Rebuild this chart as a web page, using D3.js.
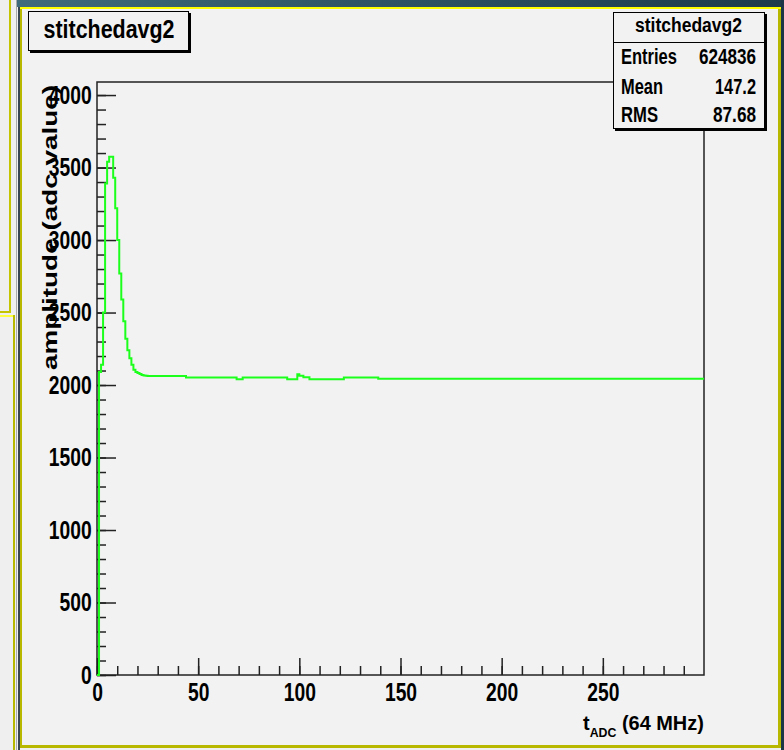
<!DOCTYPE html>
<html>
<head>
<meta charset="utf-8">
<style>
body { margin: 0; background: #efefef; }
svg text { font-family: "Liberation Sans", Arial, sans-serif; font-weight: bold; fill: #000; }
.axis line { stroke: #222; stroke-width: 1.5; }
.axis path { display: none; }
</style>
</head>
<body>
<svg id="thevis" width="784" height="750"></svg>
<script src="https://cdn.jsdelivr.net/npm/d3@7/dist/d3.min.js"></script>
<script>
// histogram: each run starts at a bin and keeps its value until the next run
var runStart = [0, 1, 2, 3, 4, 5, 6, 8, 9, 10,
                11, 12, 13, 14, 15, 16, 17, 18, 19, 20,
                21, 22, 23, 24, 25, 44, 69, 72, 94, 99,
                100, 102, 105, 122, 139];
var runValue = [0, 2090, 2140, 2500, 3390, 3540, 3575, 3430, 3220, 3000,
                2770, 2590, 2440, 2320, 2240, 2185, 2140, 2105, 2090, 2083,
                2076, 2069, 2066, 2064, 2062, 2052, 2040, 2052, 2040, 2075,
                2064, 2053, 2040, 2052, 2043];
var nBins = 300;

var xMajor = [0, 50, 100, 150, 200, 250];
var yMajor = [0, 500, 1000, 1500, 2000, 2500, 3000, 3500, 4000];
var statNames = ["Entries", "Mean", "RMS"];
var statValues = ["624836", "147.2", "87.68"];
var histName = "stitchedavg2";

var svg = d3.select("svg");

// ---- window decorations around the ROOT canvas ----
svg.append("rect").attr("x", 9).attr("y", 0).attr("width", 2).attr("height", 313).attr("fill", "#c4c400");
svg.append("rect").attr("x", 0).attr("y", 311).attr("width", 11).attr("height", 2).attr("fill", "#c4c400");
svg.append("rect").attr("x", 0).attr("y", 315).attr("width", 15).attr("height", 2).attr("fill", "#ffff40");
svg.append("rect").attr("x", 13).attr("y", 315).attr("width", 2).attr("height", 435).attr("fill", "#b8b800");
svg.append("rect").attr("x", 16).attr("y", 0).attr("width", 1).attr("height", 750).attr("fill", "#aaaaaa");
svg.append("rect").attr("x", 18).attr("y", 0).attr("width", 2).attr("height", 750).attr("fill", "#3a4652");

var grad = svg.append("defs").append("linearGradient").attr("id", "bar");
grad.append("stop").attr("offset", "0%").attr("stop-color", "#3f6b7a");
grad.append("stop").attr("offset", "100%").attr("stop-color", "#1d3b4b");
svg.append("rect").attr("x", 17).attr("y", 0).attr("width", 767).attr("height", 7).attr("fill", "url(#bar)");
svg.append("rect").attr("x", 781).attr("y", 0).attr("width", 3).attr("height", 750).attr("fill", "#1d3646");

// canvas with its border
svg.append("rect").attr("x", 20).attr("y", 7).attr("width", 761).attr("height", 741).attr("fill", "#b8b800");
svg.append("rect").attr("x", 20).attr("y", 7).attr("width", 761).attr("height", 2).attr("fill", "#ffff00");
svg.append("rect").attr("x", 22).attr("y", 9).attr("width", 756).attr("height", 736).attr("fill", "#f2f2f2");

// ---- scales ----
var x = d3.scaleLinear().domain([0, 300]).range([97, 704]);
var y = d3.scaleLinear().domain([0, 4090]).range([675, 82]);

// minor ticks
svg.append("g").attr("class", "axis")
    .attr("transform", "translate(0," + y(0) + ")")
    .call(d3.axisBottom(x).tickValues(d3.range(0, 300, 10)).tickSize(-9).tickFormat(""));
svg.append("g").attr("class", "axis")
    .attr("transform", "translate(" + x(0) + ",0)")
    .call(d3.axisLeft(y).tickValues(d3.range(0, 4001, 100)).tickSize(-9).tickFormat(""));

// major ticks with labels
var xAxis = svg.append("g").attr("class", "axis")
    .attr("transform", "translate(0," + y(0) + ")")
    .call(d3.axisBottom(x).tickValues(xMajor).tickSize(-17).tickPadding(8).tickFormat(d3.format("d")));
xAxis.selectAll("text").attr("font-size", 25).attr("font-family", null)
    .attr("transform", "scale(0.77,1)");

var yAxis = svg.append("g").attr("class", "axis")
    .attr("transform", "translate(" + x(0) + ",0)")
    .call(d3.axisLeft(y).tickValues(yMajor).tickSize(-19).tickPadding(7).tickFormat(d3.format("d")));
yAxis.selectAll("text").attr("font-size", 25).attr("font-family", null)
    .attr("transform", "scale(0.77,1)");

// frame
svg.append("rect")
    .attr("x", x(0)).attr("y", y(4090))
    .attr("width", x(300) - x(0)).attr("height", y(0) - y(4090))
    .attr("fill", "none").attr("stroke", "#222").attr("stroke-width", 1.5);

// ---- histogram line ----
var pts = [[x(0), y(0)]];
runStart.forEach(function(s, i) {
  var e = i < runStart.length - 1 ? runStart[i + 1] : nBins;
  pts.push([x(s), y(runValue[i])]);
  pts.push([x(e), y(runValue[i])]);
});
svg.append("path")
    .attr("d", d3.line()(pts))
    .attr("fill", "none")
    .attr("stroke", "#1cff1c")
    .attr("stroke-width", 2);

// ---- axis titles ----
svg.append("text")
    .attr("transform", "translate(57,85) rotate(-90)")
    .attr("text-anchor", "end")
    .attr("font-size", 21)
    .attr("textLength", 285)
    .attr("lengthAdjust", "spacingAndGlyphs")
    .text("amplitude (adc value)");

var xt = svg.append("text")
    .attr("transform", "translate(583,730) scale(0.95,1)")
    .attr("font-size", 21);
xt.append("tspan").text("t");
xt.append("tspan").attr("font-size", 13).attr("dy", 7).text("ADC");
xt.append("tspan").attr("dy", -7).text(" (64 MHz)");

// ---- title box ----
svg.append("rect").attr("x", 30).attr("y", 13).attr("width", 161).attr("height", 40).attr("fill", "#000");
svg.append("rect").attr("x", 28.5).attr("y", 11.5).attr("width", 160).attr("height", 39)
    .attr("fill", "#f2f2f2").attr("stroke", "#000").attr("stroke-width", 1);
svg.append("text")
    .attr("x", 109).attr("y", 38)
    .attr("text-anchor", "middle")
    .attr("font-size", 25)
    .attr("textLength", 131)
    .attr("lengthAdjust", "spacingAndGlyphs")
    .text(histName);

// ---- stats box ----
var bx = 613, by = 12, bw = 151, bh = 116;
svg.append("rect").attr("x", bx + 2).attr("y", by + 2).attr("width", bw + 1).attr("height", bh + 1).attr("fill", "#000");
svg.append("rect").attr("x", bx + 0.5).attr("y", by + 0.5).attr("width", bw).attr("height", bh)
    .attr("fill", "#f2f2f2").attr("stroke", "#000").attr("stroke-width", 1);
svg.append("line").attr("x1", bx).attr("x2", bx + bw).attr("y1", 42.5).attr("y2", 42.5)
    .attr("stroke", "#000").attr("stroke-width", 1);
svg.append("text")
    .attr("x", 688.5).attr("y", 32)
    .attr("text-anchor", "middle")
    .attr("font-size", 20)
    .attr("textLength", 107)
    .attr("lengthAdjust", "spacingAndGlyphs")
    .text(histName);

var nameLen = [56, 42, 37];
var valLen = [57, 41, 43];
var rowY = [64, 94, 122];
statNames.forEach(function(n, i) {
  svg.append("text")
      .attr("x", 621).attr("y", rowY[i])
      .attr("font-size", 22)
      .attr("textLength", nameLen[i])
      .attr("lengthAdjust", "spacingAndGlyphs")
      .text(n);
  svg.append("text")
      .attr("x", 756).attr("y", rowY[i])
      .attr("text-anchor", "end")
      .attr("font-size", 22)
      .attr("textLength", valLen[i])
      .attr("lengthAdjust", "spacingAndGlyphs")
      .text(statValues[i]);
});
</script>
</body>
</html>
